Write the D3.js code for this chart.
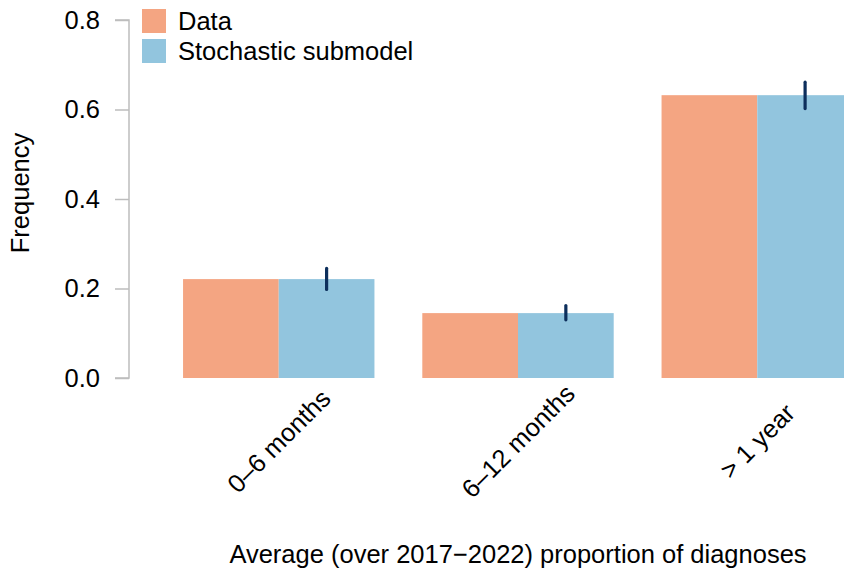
<!DOCTYPE html>
<html>
<head>
<meta charset="utf-8">
<script src="https://cdn.jsdelivr.net/npm/d3@7"></script>
<style>
  html, body { margin: 0; padding: 0; background: #fff; }
  svg { display: block; }
  text { font-family: "Liberation Sans", Arial, Helvetica, sans-serif; fill: #000; }
</style>
</head>
<body>
<svg id="chart" width="844" height="573"></svg>
<script>
// ---- data ----
const categories = ["0–6 months", "6–12 months", "> 1 year"];
const seriesNames = ["Data", "Stochastic submodel"];
const dataValues = [0.221, 0.145, 0.632];
const modelValues = [0.221, 0.145, 0.632];
const modelLow = [0.198, 0.130, 0.602];
const modelHigh = [0.245, 0.162, 0.661];
const yTicks = [0, 0.2, 0.4, 0.6, 0.8];
const xTitle = "Average (over 2017\u22122022) proportion of diagnoses";
const yTitle = "Frequency";

// ---- styles ----
const colors = ["#F4A582", "#92C5DE"];
const errColor = "#0d2f5c";
const axisColor = "#bdbdbd";
const fs = 25.5;

const svg = d3.select("#chart");

const rows = categories.map((c, i) => ({
  cat: c,
  vals: [dataValues[i], modelValues[i]],
  lo: modelLow[i], hi: modelHigh[i]
}));

const unit = 95.7;
const x0 = d3.scaleBand().domain(categories)
  .range([135.2, 135.2 + 8 * unit])
  .paddingInner(0.2).paddingOuter(0.2);
const x1 = d3.scaleBand().domain(seriesNames).range([0, x0.bandwidth()]).padding(0);
const y = d3.scaleLinear().domain([0, 0.8]).range([378, 20]);

// bars
const g = svg.append("g");
const grp = g.selectAll("g.grp").data(rows).enter().append("g")
  .attr("transform", d => `translate(${x0(d.cat)},0)`);
grp.selectAll("rect").data(d => d.vals.map((v, k) => ({ v, k })))
  .enter().append("rect")
  .attr("x", d => x1(seriesNames[d.k]))
  .attr("width", x1.bandwidth() + (d => 0)(0))
  .attr("y", d => y(d.v))
  .attr("height", d => y(0) - y(d.v))
  .attr("fill", d => colors[d.k]);

// error bars on model
grp.append("line")
  .attr("x1", x1(seriesNames[1]) + x1.bandwidth() / 2)
  .attr("x2", x1(seriesNames[1]) + x1.bandwidth() / 2)
  .attr("y1", d => y(d.lo))
  .attr("y2", d => y(d.hi))
  .attr("stroke", errColor)
  .attr("stroke-width", 3.2)
  .attr("stroke-linecap", "round");

// y axis
const yAxis = d3.axisLeft(y).tickValues(yTicks).tickFormat(d3.format(".1f"))
  .tickSize(14).tickPadding(15);
const ya = svg.append("g").attr("transform", "translate(129,0)").call(yAxis);
ya.select(".domain").attr("stroke", axisColor).attr("stroke-width", 1.5)
  .attr("d", `M-14,${y(0.8)}H0V${y(0)}H-14`);
ya.selectAll(".tick line").attr("stroke", axisColor).attr("stroke-width", 1.5);
ya.selectAll(".tick text").attr("font-size", fs).attr("font-family", "Liberation Sans, Arial, sans-serif").attr("fill", "#000");

// x labels
svg.append("g").selectAll("text").data(categories).enter().append("text")
  .attr("transform", d => `translate(${x0(d) + x0.bandwidth() / 2},441) rotate(-45)`)
  .attr("text-anchor", "middle")
  .attr("dominant-baseline", "central")
  .attr("font-size", fs)
  .text(d => d);

// axis titles
svg.append("text").attr("x", 518).attr("y", 563)
  .attr("text-anchor", "middle").attr("font-size", fs).text(xTitle);
svg.append("text").attr("transform", "translate(29,193) rotate(-90)")
  .attr("text-anchor", "middle").attr("font-size", fs).text(yTitle);

// legend
const leg = svg.append("g").selectAll("g").data(seriesNames).enter().append("g")
  .attr("transform", (d, i) => `translate(142,${9 + i * 30})`);
leg.append("rect").attr("width", 24).attr("height", 24).attr("fill", (d, i) => colors[i]);
leg.append("text").attr("x", 36).attr("y", 12).attr("dominant-baseline", "central")
  .attr("font-size", fs).text(d => d);
</script>
</body>
</html>
